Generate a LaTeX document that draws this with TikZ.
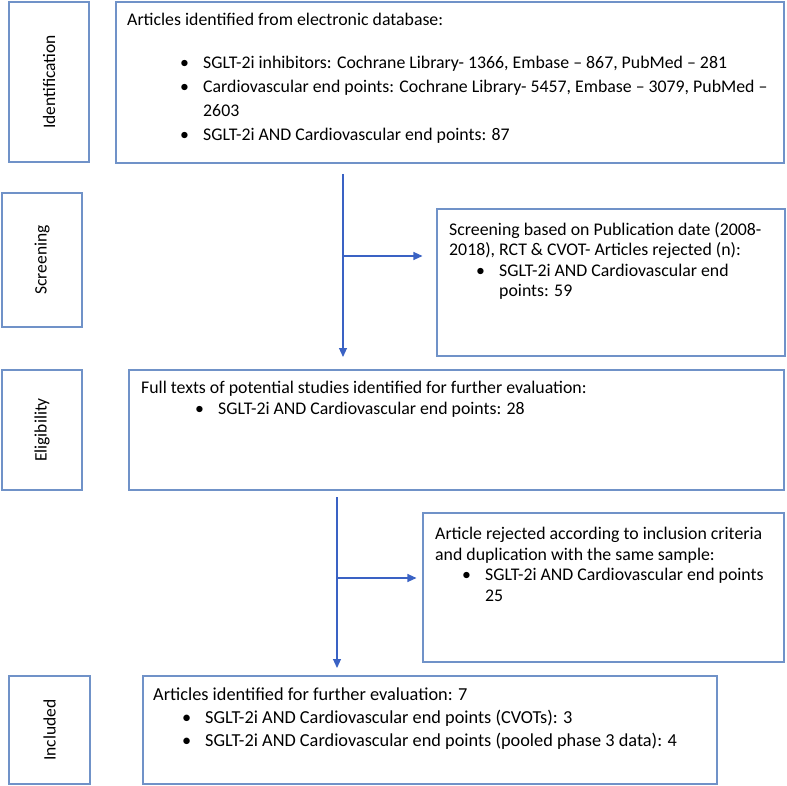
\documentclass[tikz,border=0pt]{standalone}
\usepackage{fontspec}
\setmainfont{Carlito}
\usetikzlibrary{arrows.meta}
\definecolor{boxblue}{RGB}{112,146,200}
\definecolor{arrowblue}{RGB}{58,98,196}
\newcommand{\blt}[1]{\hspace*{#1pt}\makebox[23pt][l]{\textbullet}}
\begin{document}
\begin{tikzpicture}[x=1pt,y=-1pt]
	\useasboundingbox (0,0) rectangle (787,786);
	\begin{scope}[every node/.style={draw=boxblue,line width=1.1pt,rectangle,inner sep=0}]
		\node[minimum width=80,minimum height=160] (idlab) at (49,82) {};
		\node[minimum width=668,minimum height=161] (idbox) at (450,82.5) {};
		\node[minimum width=80,minimum height=134] (scrlab) at (42,260) {};
		\node[minimum width=348,minimum height=147] (scrbox) at (611,282.5) {};
		\node[minimum width=80,minimum height=120] (elilab) at (42,430) {};
		\node[minimum width=655,minimum height=120] (elibox) at (456.5,430) {};
		\node[minimum width=361,minimum height=149] (rejbox) at (603.5,587.5) {};
		\node[minimum width=81,minimum height=108] (inclab) at (49.5,730) {};
		\node[minimum width=574,minimum height=108] (incbox) at (430,730) {};
	\end{scope}
	\begin{scope}[every node/.style={inner sep=0,font=\fontsize{17.5}{22}\selectfont}]
		\node[rotate=90] (idtext) at (idlab) {Identification};
		\node[rotate=90] (scrtext) at (scrlab) {Screening};
		\node[rotate=90] (elitext) at (elilab) {Eligibility};
		\node[rotate=90] (inctext) at (inclab) {Included};
	\end{scope}
	\begin{scope}[every node/.style={inner sep=0,anchor=north west,align=left,font=\fontsize{17.8}{20.5}\selectfont}]
		\node[font=\fontsize{17.8}{23.8}\selectfont] (idlist) at (127,13) {Articles identified from electronic database:\\[19.5pt]
			\blt{53}SGLT-2i inhibitors: Cochrane Library- 1366, Embase – 867, PubMed – 281\\
			\blt{53}Cardiovascular end points: Cochrane Library- 5457, Embase – 3079, PubMed –\\
			\hspace*{76pt}2603\\
			\blt{53}SGLT-2i AND Cardiovascular end points: 87};
		\node (scrlist) at (449,222) {Screening based on Publication date (2008-\\
			2018), RCT \& CVOT- Articles rejected (n):\\
			\blt{27}SGLT-2i AND Cardiovascular end\\
			\hspace*{50pt}points: 59};
		\node (elilist) at (141,381) {Full texts of potential studies identified for further evaluation:\\
			\blt{54}SGLT-2i AND Cardiovascular end points: 28};
		\node (rejlist) at (435,527) {Article rejected according to inclusion criteria\\
			and duplication with the same sample:\\
			\blt{27}SGLT-2i AND Cardiovascular end points\\
			\hspace*{50pt}25};
		\node[font=\fontsize{18.3}{23}\selectfont] (inclist) at (153,688) {Articles identified for further evaluation: 7\\
			\blt{29}SGLT-2i AND Cardiovascular end points (CVOTs): 3\\
			\blt{29}SGLT-2i AND Cardiovascular end points (pooled phase 3 data): 4};
	\end{scope}
	\coordinate (top1) at (343,174);
	\coordinate (end1) at (343,357);
	\coordinate (fork1) at (343,256);
	\coordinate (top2) at (337,497);
	\coordinate (end2) at (337,668);
	\coordinate (fork2) at (337,578);
	\draw [arrowblue,line width=1.1pt,-{Triangle[length=9pt,width=8pt]}] (top1) -- (end1);
	\draw [arrowblue,line width=1.1pt,-{Triangle[length=9pt,width=8pt]},shorten >=14pt] (fork1) -- (fork1 -| scrbox.west);
	\draw [arrowblue,line width=1.1pt,-{Triangle[length=9pt,width=8pt]}] (top2) -- (end2);
	\draw [arrowblue,line width=1.1pt,-{Triangle[length=9pt,width=8pt]},shorten >=6pt] (fork2) -- (fork2 -| rejbox.west);
\end{tikzpicture}
\end{document}
